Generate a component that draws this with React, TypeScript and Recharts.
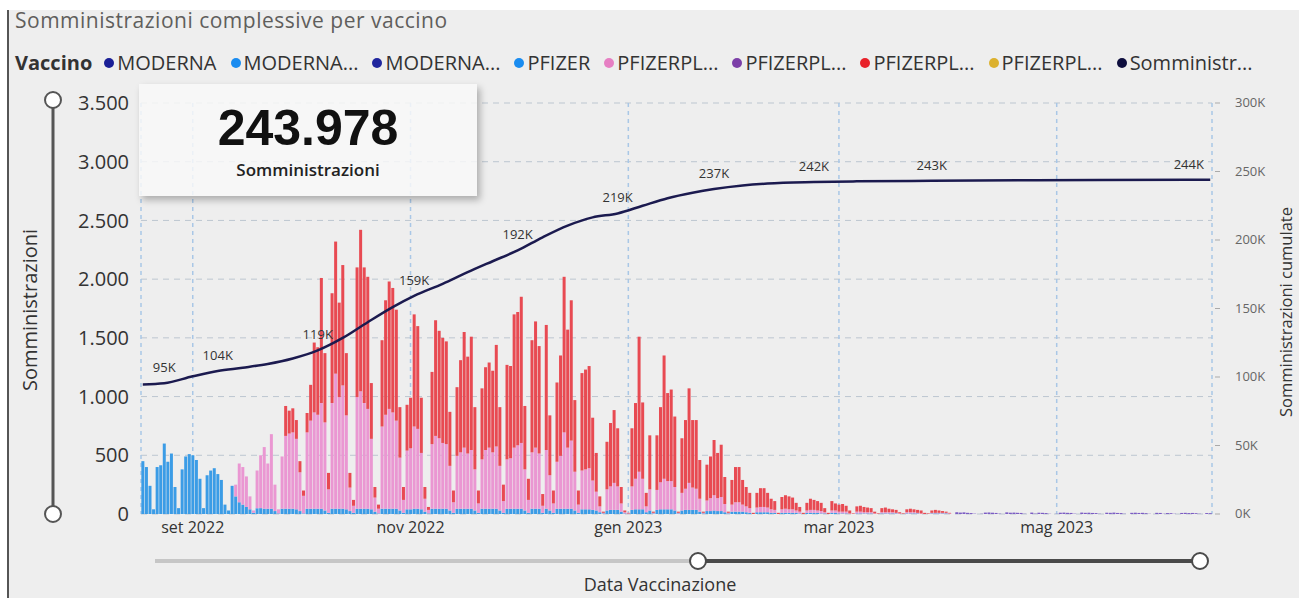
import React from 'react';
import { ComposedChart, Bar, Line, XAxis, YAxis, CartesianGrid, LabelList } from 'recharts';

// first day on the axis, one bar per day
const startDate = '2022-08-18';

// PFIZER (azzurro) - Thu 18 Aug, then one row per week Mon..Sun
const pfizer = [
  450, 400, 240, 40,
  400, 415, 600, 445, 515, 230, 50,
  380, 490, 510, 500, 460, 300, 50,
  330, 370, 390, 340, 290, 80, 30,
  240, 150, 100, 80, 60, 40, 10,
  50, 50, 45, 45, 45, 25, 5,
  45, 45, 45, 45, 40, 25, 5,
  45, 45, 45, 45, 45, 30, 10,
  45, 45, 45, 45, 40, 25, 10,
  45, 45, 45, 45, 40, 20, 5,
  45, 45, 45, 45, 45, 30, 10,
  40, 40, 45, 45, 40, 20, 5,
  45, 45, 45, 45, 45, 30, 10,
  45, 45, 45, 45, 45, 30, 10,
  45, 45, 45, 45, 45, 30, 10,
  45, 45, 45, 45, 45, 30, 10,
  45, 45, 45, 10, 45, 30, 10,
  45, 45, 45, 45, 45, 30, 10,
  40, 40, 40, 35, 30, 15, 5,
  30, 35, 35, 35, 20, 5, 0,
  35, 40, 40, 40, 15, 30, 5,
  35, 40, 40, 40, 40, 30, 5,
  30, 35, 35, 35, 35, 20, 5,
  25, 25, 30, 25, 25, 15, 5,
  20, 20, 20, 20, 15, 10, 0,
  15, 15, 15, 15, 10, 10, 0,
  10, 10, 10, 10, 10, 5, 0,
  10, 10, 10, 10, 5, 5, 0,
  10, 10, 5, 5, 5, 0, 0,
  5, 5, 5, 5, 5, 0, 0,
  5, 5, 5, 5, 5, 0, 0,
  5, 5, 5, 5, 0, 0, 0,
  5, 5, 5, 5, 5, 0, 0,
];

// PFIZERPL... (rosa) from Mon 12 Sep
const pinkStart = '2022-09-12';
const pfizerPlPink = [
  0, 100, 330, 320, 260, 110, 20,
  320, 450, 525, 385, 635, 225, 35,
  445, 620, 640, 650, 600, 330, 150,
  650, 750, 820, 800, 900, 750, 200,
  900, 1150, 950, 1050, 800, 200, 60,
  950, 1000, 900, 850, 600, 120, 40,
  700, 800, 850, 820, 750, 450, 110,
  500, 520, 700, 680, 480, 110, 30,
  550, 620, 600, 560, 550, 380, 90,
  450, 480, 520, 470, 500, 350, 80,
  420, 500, 520, 480, 530, 380, 100,
  420, 430, 520, 540, 560, 350, 110,
  480, 520, 470, 60, 500, 300, 80,
  400, 450, 650, 520, 580, 330, 70,
  330, 340, 350, 250, 160, 50, 5,
  180, 200, 230, 200, 70, 10, 5,
  200, 260, 320, 260, 50, 180, 5,
  170, 230, 260, 240, 240, 200, 5,
  150, 180, 230, 190, 180, 110, 5,
  90, 110, 130, 110, 120, 70, 5,
  60, 80, 80, 60, 50, 40, 0,
  40, 45, 45, 40, 30, 25, 0,
  30, 35, 30, 30, 20, 15, 0,
  20, 25, 25, 20, 20, 10, 0,
  20, 20, 15, 15, 15, 5, 0,
  15, 15, 10, 10, 10, 5, 0,
  10, 10, 10, 10, 5, 5, 0,
  10, 10, 10, 5, 5, 0, 0,
  5, 5, 5, 5, 5, 5, 0,
];

// PFIZERPL... (rosso) from Mon 26 Sep
const redStart = '2022-09-26';
const pfizerPlRed = [
  0, 255, 195, 205, 160, 95, 45,
  165, 305, 595, 575, 1065, 590, 140,
  935, 1125, 805, 1025, 530, 125, 50,
  1105, 1375, 1155, 1125, 475, 90, 35,
  735, 975, 1085, 1060, 945, 430, 110,
  390, 430, 955, 875, 470, 100, 25,
  615, 985, 915, 895, 875, 460, 100,
  585, 785, 985, 825, 965, 530, 110,
  605, 705, 725, 695, 865, 500, 140,
  805, 785, 1135, 1135, 1245, 540, 180,
  955, 1075, 915, 100, 1065, 510, 110,
  675, 855, 1325, 1005, 1195, 610, 120,
  830, 850, 870, 535, 330, 85, 10,
  405, 540, 620, 495, 140, 15, 5,
  495, 645, 1150, 650, 115, 460, 10,
  465, 640, 1050, 750, 780, 600, 10,
  465, 585, 805, 575, 585, 330, 10,
  305, 355, 470, 385, 445, 230, 10,
  210, 300, 300, 210, 165, 130, 10,
  125, 160, 160, 125, 90, 75, 10,
  105, 115, 110, 100, 65, 40, 10,
  65, 95, 85, 80, 70, 35, 10,
  80, 60, 60, 65, 50, 25, 5,
  45, 50, 45, 40, 35, 15, 5,
  35, 40, 30, 25, 25, 10, 5,
  25, 30, 25, 25, 25, 10, 5,
  20, 25, 20, 15, 10, 5, 0,
];

// PFIZERPL... (viola) from Mon 3 Apr, last day 13 Jun
const purpleStart = '2023-04-03';
const pfizerPlPurple = [
  15, 12, 14, 10, 8, 3, 0,
  2, 12, 13, 11, 9, 3, 0,
  14, 11, 12, 10, 9, 2, 0,
  12, 3, 11, 10, 8, 2, 0,
  2, 11, 12, 10, 9, 3, 0,
  12, 10, 11, 9, 8, 2, 0,
  11, 10, 12, 9, 8, 2, 0,
  10, 11, 9, 10, 7, 2, 0,
  10, 9, 2, 8, 7, 2, 0,
  9, 10, 8, 9, 7, 2, 0,
  8, 7,
];

// Somministrazioni cumulate
const cumDates = [
  '2022-08-18', '2022-08-24', '2022-09-01', '2022-09-08', '2022-09-15', '2022-09-22',
  '2022-09-29', '2022-10-06', '2022-10-13', '2022-10-20', '2022-10-27', '2022-11-02',
  '2022-11-10', '2022-11-17', '2022-11-24', '2022-12-01', '2022-12-08', '2022-12-15',
  '2022-12-22', '2022-12-29', '2023-01-05', '2023-01-12', '2023-01-19', '2023-01-25',
  '2023-02-02', '2023-02-09', '2023-02-22', '2023-03-06', '2023-03-27', '2023-04-25',
  '2023-06-07', '2023-06-13',
];
const cumValues = [
  94600, 95400, 100500, 104400, 106800, 109500,
  113500, 119400, 128500, 140000, 151000, 159200,
  168000, 176500, 184500, 192400, 202000, 210500,
  216500, 219400, 225000, 230500, 234500, 237200,
  239800, 241200, 242300, 242800, 243200, 243600,
  243900, 243978,
];
const cumLabelDates = [
  '2022-08-24', '2022-09-08', '2022-10-06', '2022-11-02', '2022-12-01',
  '2022-12-29', '2023-01-25', '2023-02-22', '2023-03-27', '2023-06-07',
];

const monthTicks = ['2022-09-01', '2022-11-01', '2023-01-01', '2023-03-01', '2023-05-01'];
const monthLabels = ['set 2022', 'nov 2022', 'gen 2023', 'mar 2023', 'mag 2023'];
const leftTicks = [0, 500, 1000, 1500, 2000, 2500, 3000, 3500];
const rightTicks = [0, 50000, 100000, 150000, 200000, 250000, 300000];

const legendItems = [
  { name: 'MODERNA', color: '#1a1f96' },
  { name: 'MODERNA...', color: '#1a8cf0' },
  { name: 'MODERNA...', color: '#20269e' },
  { name: 'PFIZER', color: '#1a8cf0' },
  { name: 'PFIZERPL...', color: '#e67fc3' },
  { name: 'PFIZERPL...', color: '#7c3fa8' },
  { name: 'PFIZERPL...', color: '#e8222a' },
  { name: 'PFIZERPL...', color: '#dcb12e' },
  { name: 'Somministr...', color: '#0e0e3e' },
];

const totalAdministered = cumValues[cumValues.length - 1];

const FONT = "'Segoe UI', 'Open Sans', sans-serif";
const DAY = 86400000;
const dayOffset = (d: string) => Math.round((Date.parse(d) - Date.parse(startDate)) / DAY);
const dayCount = dayOffset(purpleStart) + pfizerPlPurple.length;

const itNumber = (v: number) => {
  const s = String(Math.round(v));
  return s.replace(/\B(?=(\d{3})+(?!\d))/g, '.');
};

const rows = Array.from({ length: dayCount }, (_, i) => {
  const date = new Date(Date.parse(startDate) + i * DAY).toISOString().slice(0, 10);
  const ci = cumDates.indexOf(date);
  const cum = ci >= 0 ? cumValues[ci] : null;
  return {
    date,
    pfizer: pfizer[i] ?? 0,
    pink: pfizerPlPink[i - dayOffset(pinkStart)] ?? 0,
    red: pfizerPlRed[i - dayOffset(redStart)] ?? 0,
    purple: pfizerPlPurple[i - dayOffset(purpleStart)] ?? 0,
    cum,
    cumLabel: cumLabelDates.includes(date) ? cum : null,
  };
});

const CumLabel = (props: any) => {
  const { x, y, value } = props;
  if (value == null || x == null || y == null) return null;
  return (
    <text x={x} y={y - 11} textAnchor="middle" fontSize={13} fill="#333" fontFamily={FONT}>
      {`${Math.round(value / 1000)}K`}
    </text>
  );
};

const RightTick = (props: any) => {
  const { x, y, payload } = props;
  return (
    <g>
      <line x1={x - 5} x2={x} y1={y} y2={y} stroke="#aaa" />
      <text x={x + 15} y={y} dy={4} fontSize={13} fill="#666" fontFamily={FONT}>
        {`${payload.value / 1000}K`}
      </text>
    </g>
  );
};

const App = () => {
  return (
    <div style={{ position: 'absolute', left: 0, top: 0, width: 1299, height: 598, background: '#eeeeee', overflow: 'hidden', fontFamily: FONT }}>
      <div style={{ position: 'absolute', left: 0, top: 0, width: 1299, height: 10, background: '#fff' }} />
      <div style={{ position: 'absolute', left: 0, top: 0, width: 7, height: 598, background: '#fff' }} />
      <div style={{ position: 'absolute', left: 7, top: 10, width: 2, height: 588, background: '#555' }} />

      <div style={{ position: 'absolute', left: 15, top: 6, fontSize: 21, color: '#605e5c', whiteSpace: 'nowrap', letterSpacing: 0.5 }}>
        Somministrazioni complessive per vaccino
      </div>

      <div style={{ position: 'absolute', left: 15, top: 49, display: 'flex', alignItems: 'center', fontSize: 20, color: '#333', whiteSpace: 'nowrap' }}>
        <span style={{ fontWeight: 700, marginRight: 12 }}>Vaccino</span>
        {legendItems.map((it, i) => (
          <span key={i} style={{ display: 'flex', alignItems: 'center', marginRight: 14 }}>
            <span style={{ width: 10, height: 10, borderRadius: 5, background: it.color, marginRight: 3 }} />
            {it.name}
          </span>
        ))}
      </div>

      <ComposedChart
        width={1299}
        height={598}
        data={rows}
        margin={{ top: 103, right: 0, bottom: 54, left: 0 }}
        barCategoryGap="10%"
        style={{ position: 'absolute', left: 0, top: 0 }}
      >
        <CartesianGrid yAxisId="left" vertical={false} stroke="#bcc6d0" strokeDasharray="6 5" />
        <CartesianGrid yAxisId="left" horizontal={false} stroke="#a9c7e6" strokeDasharray="4 4" strokeWidth={1.5} />
        <XAxis
          dataKey="date"
          ticks={monthTicks}
          interval={0}
          tickFormatter={(d: string) => monthLabels[monthTicks.indexOf(d)] ?? ''}
          axisLine={false}
          tickLine={false}
          tickSize={0}
          tickMargin={8}
          height={30}
          tick={{ fontSize: 16, fill: '#333', fontFamily: FONT }}
        />
        <YAxis
          yAxisId="left"
          domain={[0, 3500]}
          ticks={leftTicks}
          width={141}
          axisLine={false}
          tickLine={false}
          tickSize={0}
          tickMargin={12}
          tickFormatter={itNumber}
          tick={{ fontSize: 20, fill: '#333', fontFamily: FONT }}
        />
        <YAxis
          yAxisId="right"
          orientation="right"
          domain={[0, 300000]}
          ticks={rightTicks}
          width={87}
          axisLine={false}
          tickLine={false}
          tick={<RightTick />}
        />
        <Bar yAxisId="left" dataKey="pfizer" stackId="v" fill="#3b9ce6" isAnimationActive={false} />
        <Bar yAxisId="left" dataKey="pink" stackId="v" fill="#ea97d2" isAnimationActive={false} />
        <Bar yAxisId="left" dataKey="red" stackId="v" fill="#e84a52" isAnimationActive={false} />
        <Bar yAxisId="left" dataKey="purple" stackId="v" fill="#7c5cc4" isAnimationActive={false} />
        <Line
          yAxisId="right"
          dataKey="cum"
          type="monotone"
          connectNulls
          stroke="#1b1a4f"
          strokeWidth={2.5}
          dot={false}
          activeDot={false}
          isAnimationActive={false}
        >
          <LabelList dataKey="cumLabel" content={<CumLabel />} />
        </Line>
      </ComposedChart>

      <div style={{ position: 'absolute', left: 139, top: 84, width: 338, height: 112, background: 'rgba(249,249,249,0.82)', boxShadow: '3px 4px 7px rgba(0,0,0,0.28)' }}>
        <div style={{ position: 'absolute', left: 0, right: 0, top: 16, textAlign: 'center', fontFamily: "'Liberation Sans', Arial, sans-serif", fontWeight: 700, fontSize: 50, color: '#111', lineHeight: '56px' }}>
          {itNumber(totalAdministered)}
        </div>
        <div style={{ position: 'absolute', left: 0, right: 0, top: 74, textAlign: 'center', fontWeight: 600, fontSize: 17, color: '#222' }}>
          Somministrazioni
        </div>
      </div>

      <div style={{ position: 'absolute', left: 30 - 150, top: 310 - 14, width: 300, height: 28, textAlign: 'center', fontSize: 20, color: '#333', transform: 'rotate(-90deg)' }}>
        Somministrazioni
      </div>
      <div style={{ position: 'absolute', left: 1286 - 150, top: 312 - 11, width: 300, height: 22, lineHeight: '22px', textAlign: 'center', fontSize: 16.5, color: '#333', transform: 'rotate(-90deg)' }}>
        Somministrazioni cumulate
      </div>
      <div style={{ position: 'absolute', left: 560, top: 572, width: 200, textAlign: 'center', fontSize: 18, lineHeight: '24px', color: '#333' }}>
        Data Vaccinazione
      </div>

      <svg width={1299} height={598} style={{ position: 'absolute', left: 0, top: 0, pointerEvents: 'none' }}>
        <line x1={53} x2={53} y1={100} y2={514} stroke="#555" strokeWidth={3} />
        <circle cx={53} cy={100} r={8} fill="#fff" stroke="#555" strokeWidth={2} />
        <circle cx={53} cy={514} r={8} fill="#fff" stroke="#555" strokeWidth={2} />
        <line x1={155} x2={698} y1={561} y2={561} stroke="#c6c6c6" strokeWidth={4} />
        <line x1={698} x2={1200} y1={561} y2={561} stroke="#4a4a4a" strokeWidth={4} />
        <circle cx={698} cy={561} r={8} fill="#fff" stroke="#4a4a4a" strokeWidth={2} />
        <circle cx={1200} cy={561} r={8} fill="#fff" stroke="#4a4a4a" strokeWidth={2} />
      </svg>
    </div>
  );
};

export default App;
